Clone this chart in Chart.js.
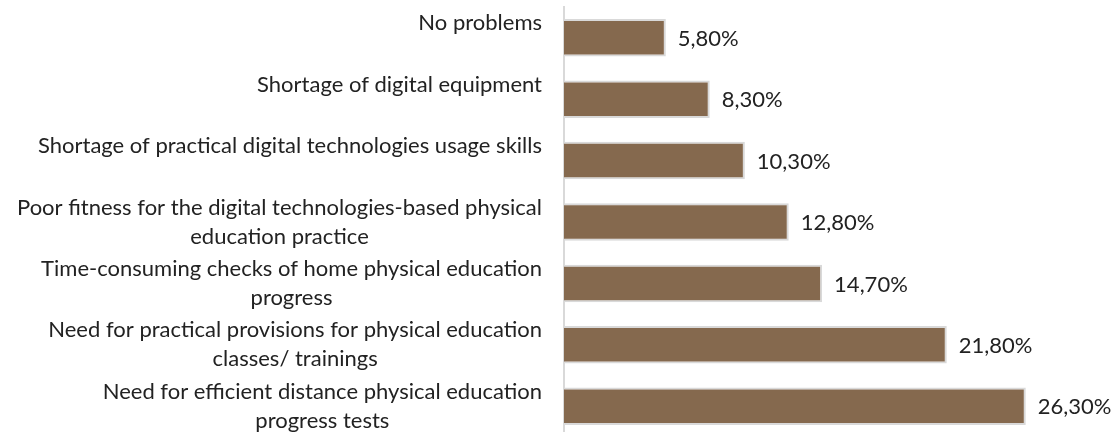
<!DOCTYPE html>
<html>
<head>
<meta charset="utf-8">
<script src="https://cdn.jsdelivr.net/npm/chart.js@4"></script>
<style>
  html, body { margin: 0; padding: 0; background: #fff; overflow: hidden; }
  #wrap { width: 1115px; height: 437px; position: relative; }
</style>
</head>
<body>
<div id="wrap"><canvas id="problemsChart"></canvas></div>
<script>
// survey answers, one entry per bar, top to bottom
const problemLabels = [
  ['No problems'],
  ['Shortage of digital equipment'],
  ['Shortage of practical digital technologies usage skills'],
  ['Poor fitness for the digital technologies-based physical', 'education practice'],
  ['Time-consuming checks of home physical education', 'progress'],
  ['Need for practical provisions for physical education', 'classes/ trainings'],
  ['Need for efficient distance physical education', 'progress tests']
];
const sharePercent = [5.8, 8.3, 10.3, 12.8, 14.7, 21.8, 26.3];

const FONT = '22px Lato, "Open Sans", sans-serif';
const TEXT_COLOR = '#222';

// category labels: block right-aligned to the axis, lines centred inside the block
const categoryLabelsPlugin = {
  id: 'categoryLabels',
  afterDraw(chart) {
    const ctx = chart.ctx;
    const yScale = chart.scales.y;
    const rightEdge = chart.chartArea.left - 22;
    const lineGap = 29;
    ctx.save();
    ctx.font = FONT;
    ctx.fillStyle = TEXT_COLOR;
    ctx.textAlign = 'center';
    ctx.textBaseline = 'middle';
    problemLabels.forEach((lines, i) => {
      const yc = yScale.getPixelForValue(i);
      const blockW = Math.max(...lines.map(l => ctx.measureText(l).width));
      const xc = rightEdge - blockW / 2;
      lines.forEach((line, j) => {
        ctx.fillText(line, xc, yc - lineGap / 2 + j * lineGap);
      });
    });
    ctx.restore();
  }
};

// value labels to the right of each bar
const valueLabelsPlugin = {
  id: 'valueLabels',
  afterDatasetsDraw(chart) {
    const ctx = chart.ctx;
    const meta = chart.getDatasetMeta(0);
    ctx.save();
    ctx.font = FONT;
    ctx.fillStyle = TEXT_COLOR;
    ctx.textAlign = 'left';
    ctx.textBaseline = 'middle';
    meta.data.forEach((bar, i) => {
      const txt = sharePercent[i].toFixed(2).replace('.', ',') + '%';
      ctx.fillText(txt, bar.x + 12, bar.y + 1);
    });
    ctx.restore();
  }
};

new Chart(document.getElementById('problemsChart'), {
  type: 'bar',
  data: {
    labels: problemLabels,
    datasets: [{
      data: sharePercent,
      backgroundColor: '#85694e',
      borderColor: '#d9d9d9',
      borderWidth: 2,
      barPercentage: 0.61,
      categoryPercentage: 1
    }]
  },
  options: {
    indexAxis: 'y',
    responsive: true,
    maintainAspectRatio: false,
    animation: false,
    layout: { padding: { left: 556, right: 26, top: 7, bottom: 0 } },
    plugins: { legend: { display: false }, tooltip: { enabled: false } },
    scales: {
      x: { display: false, min: 0, max: 29.9 },
      y: {
        grid: { display: false },
        border: { display: true, color: '#d9d9d9', width: 2 },
        ticks: { display: false }
      }
    }
  },
  plugins: [categoryLabelsPlugin, valueLabelsPlugin]
});
</script>
</body>
</html>
